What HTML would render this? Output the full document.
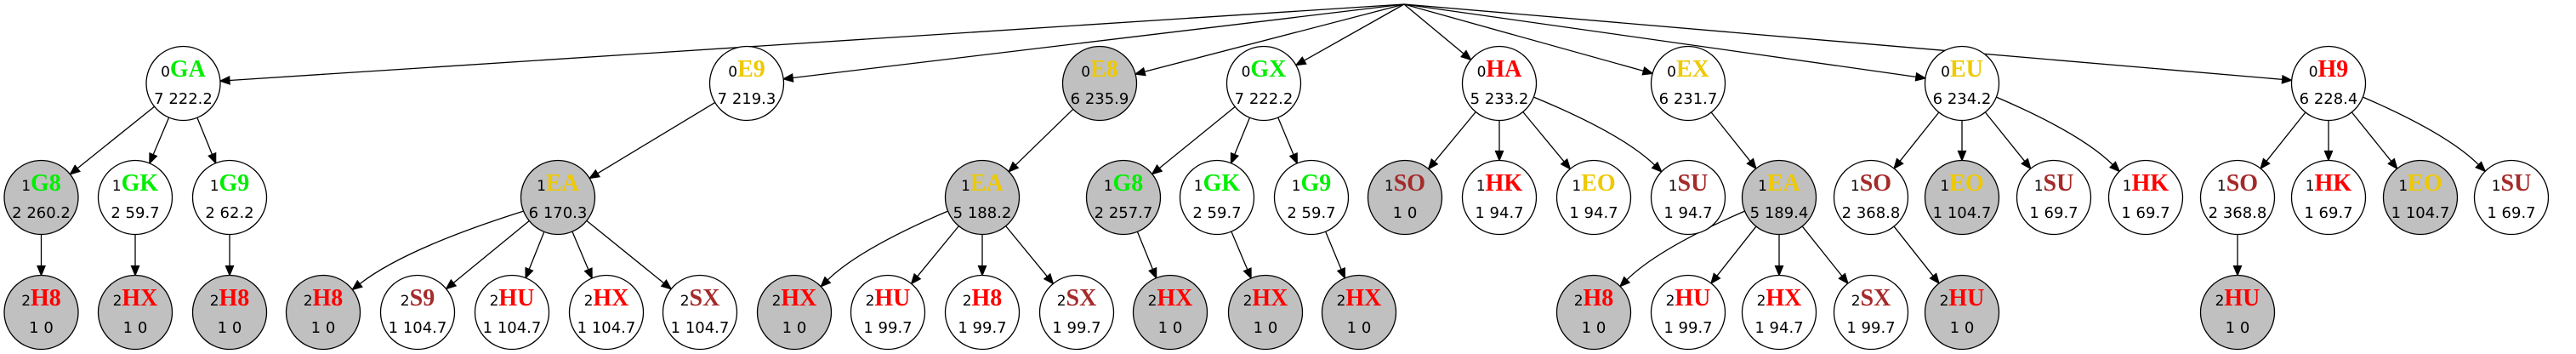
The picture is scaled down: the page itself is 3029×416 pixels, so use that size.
<!DOCTYPE html>
<html><head><meta charset="utf-8">
<style>
html,body{margin:0;padding:0;background:#fff;}
svg{display:block;}
.s{font-family:"DejaVu Sans","Liberation Sans",sans-serif;font-size:17px;fill:#000;}
.b{font-family:"Liberation Serif",serif;font-size:28px;font-weight:bold;}
.l2{font-family:"DejaVu Sans","Liberation Sans",sans-serif;font-size:18px;fill:#000;}
.g{fill:#00ee00}.y{fill:#eec900}.r{fill:#ff0000}.n{fill:#a52a2a}
</style></head><body>
<svg id="sv" width="3029" height="416" viewBox="0 0 3029 416" xmlns="http://www.w3.org/2000/svg">
<g id="edges" stroke="#000" stroke-width="1.3" fill="none"></g>
<g id="nodes" stroke="#000" stroke-width="1.3">
<!-- level 1 -->
<ellipse cx="215.5" cy="98" rx="43.5" ry="43.5" fill="#fff"/>
<ellipse cx="878" cy="98" rx="43.5" ry="43.5" fill="#fff"/>
<ellipse cx="1293" cy="98" rx="43.5" ry="43.5" fill="#c0c0c0"/>
<ellipse cx="1486" cy="98" rx="43.5" ry="43.5" fill="#fff"/>
<ellipse cx="1763" cy="98" rx="43.5" ry="43.5" fill="#fff"/>
<ellipse cx="1985" cy="98" rx="43.5" ry="43.5" fill="#fff"/>
<ellipse cx="2307" cy="98" rx="43.5" ry="43.5" fill="#fff"/>
<ellipse cx="2738" cy="98" rx="43.5" ry="43.5" fill="#fff"/>
<!-- level 2 -->
<ellipse cx="48.5" cy="232" rx="43.5" ry="43.5" fill="#c0c0c0"/>
<ellipse cx="159" cy="232" rx="43.5" ry="43.5" fill="#fff"/>
<ellipse cx="270" cy="232" rx="43.5" ry="43.5" fill="#fff"/>
<ellipse cx="656" cy="232" rx="43.5" ry="43.5" fill="#c0c0c0"/>
<ellipse cx="1155" cy="232" rx="43.5" ry="43.5" fill="#c0c0c0"/>
<ellipse cx="1321" cy="232" rx="43.5" ry="43.5" fill="#c0c0c0"/>
<ellipse cx="1431" cy="232" rx="43.5" ry="43.5" fill="#fff"/>
<ellipse cx="1542" cy="232" rx="43.5" ry="43.5" fill="#fff"/>
<ellipse cx="1652" cy="232" rx="43.5" ry="43.5" fill="#c0c0c0"/>
<ellipse cx="1763" cy="232" rx="43.5" ry="43.5" fill="#fff"/>
<ellipse cx="1874" cy="232" rx="43.5" ry="43.5" fill="#fff"/>
<ellipse cx="1985" cy="232" rx="43.5" ry="43.5" fill="#fff"/>
<ellipse cx="2092" cy="232" rx="43.5" ry="43.5" fill="#c0c0c0"/>
<ellipse cx="2200" cy="232" rx="43.5" ry="43.5" fill="#fff"/>
<ellipse cx="2307" cy="232" rx="43.5" ry="43.5" fill="#c0c0c0"/>
<ellipse cx="2415" cy="232" rx="43.5" ry="43.5" fill="#fff"/>
<ellipse cx="2523" cy="232" rx="43.5" ry="43.5" fill="#fff"/>
<ellipse cx="2631" cy="232" rx="43.5" ry="43.5" fill="#fff"/>
<ellipse cx="2738" cy="232" rx="43.5" ry="43.5" fill="#fff"/>
<ellipse cx="2846" cy="232" rx="43.5" ry="43.5" fill="#c0c0c0"/>
<ellipse cx="2953" cy="232" rx="43.5" ry="43.5" fill="#fff"/>
<!-- level 3 -->
<ellipse cx="48.5" cy="367" rx="43.5" ry="43.5" fill="#c0c0c0"/>
<ellipse cx="159" cy="367" rx="43.5" ry="43.5" fill="#c0c0c0"/>
<ellipse cx="270" cy="367" rx="43.5" ry="43.5" fill="#c0c0c0"/>
<ellipse cx="380" cy="367" rx="43.5" ry="43.5" fill="#c0c0c0"/>
<ellipse cx="491" cy="367" rx="43.5" ry="43.5" fill="#fff"/>
<ellipse cx="602" cy="367" rx="43.5" ry="43.5" fill="#fff"/>
<ellipse cx="713" cy="367" rx="43.5" ry="43.5" fill="#fff"/>
<ellipse cx="823" cy="367" rx="43.5" ry="43.5" fill="#fff"/>
<ellipse cx="934" cy="367" rx="43.5" ry="43.5" fill="#c0c0c0"/>
<ellipse cx="1044" cy="367" rx="43.5" ry="43.5" fill="#fff"/>
<ellipse cx="1155" cy="367" rx="43.5" ry="43.5" fill="#fff"/>
<ellipse cx="1266" cy="367" rx="43.5" ry="43.5" fill="#fff"/>
<ellipse cx="1376" cy="367" rx="43.5" ry="43.5" fill="#c0c0c0"/>
<ellipse cx="1488" cy="367" rx="43.5" ry="43.5" fill="#c0c0c0"/>
<ellipse cx="1598" cy="367" rx="43.5" ry="43.5" fill="#c0c0c0"/>
<ellipse cx="1874" cy="367" rx="43.5" ry="43.5" fill="#c0c0c0"/>
<ellipse cx="1985" cy="367" rx="43.5" ry="43.5" fill="#fff"/>
<ellipse cx="2092" cy="367" rx="43.5" ry="43.5" fill="#fff"/>
<ellipse cx="2200" cy="367" rx="43.5" ry="43.5" fill="#fff"/>
<ellipse cx="2307" cy="367" rx="43.5" ry="43.5" fill="#c0c0c0"/>
<ellipse cx="2631" cy="367" rx="43.5" ry="43.5" fill="#c0c0c0"/>
</g>
<g text-anchor="middle">
<!-- level 1 labels -->
<text x="215.5" y="90" class="s">0<tspan class="b g">GA</tspan></text><text x="215.5" y="122" class="l2">7 222.2</text>
<text x="878" y="90" class="s">0<tspan class="b y">E9</tspan></text><text x="878" y="122" class="l2">7 219.3</text>
<text x="1293" y="90" class="s">0<tspan class="b y">E8</tspan></text><text x="1293" y="122" class="l2">6 235.9</text>
<text x="1486" y="90" class="s">0<tspan class="b g">GX</tspan></text><text x="1486" y="122" class="l2">7 222.2</text>
<text x="1763" y="90" class="s">0<tspan class="b r">HA</tspan></text><text x="1763" y="122" class="l2">5 233.2</text>
<text x="1985" y="90" class="s">0<tspan class="b y">EX</tspan></text><text x="1985" y="122" class="l2">6 231.7</text>
<text x="2307" y="90" class="s">0<tspan class="b y">EU</tspan></text><text x="2307" y="122" class="l2">6 234.2</text>
<text x="2738" y="90" class="s">0<tspan class="b r">H9</tspan></text><text x="2738" y="122" class="l2">6 228.4</text>
<!-- level 2 labels -->
<text x="48.5" y="224" class="s">1<tspan class="b g">G8</tspan></text><text x="48.5" y="256" class="l2">2 260.2</text>
<text x="159" y="224" class="s">1<tspan class="b g">GK</tspan></text><text x="159" y="256" class="l2">2 59.7</text>
<text x="270" y="224" class="s">1<tspan class="b g">G9</tspan></text><text x="270" y="256" class="l2">2 62.2</text>
<text x="656" y="224" class="s">1<tspan class="b y">EA</tspan></text><text x="656" y="256" class="l2">6 170.3</text>
<text x="1155" y="224" class="s">1<tspan class="b y">EA</tspan></text><text x="1155" y="256" class="l2">5 188.2</text>
<text x="1321" y="224" class="s">1<tspan class="b g">G8</tspan></text><text x="1321" y="256" class="l2">2 257.7</text>
<text x="1431" y="224" class="s">1<tspan class="b g">GK</tspan></text><text x="1431" y="256" class="l2">2 59.7</text>
<text x="1542" y="224" class="s">1<tspan class="b g">G9</tspan></text><text x="1542" y="256" class="l2">2 59.7</text>
<text x="1652" y="224" class="s">1<tspan class="b n">SO</tspan></text><text x="1652" y="256" class="l2">1 0</text>
<text x="1763" y="224" class="s">1<tspan class="b r">HK</tspan></text><text x="1763" y="256" class="l2">1 94.7</text>
<text x="1874" y="224" class="s">1<tspan class="b y">EO</tspan></text><text x="1874" y="256" class="l2">1 94.7</text>
<text x="1985" y="224" class="s">1<tspan class="b n">SU</tspan></text><text x="1985" y="256" class="l2">1 94.7</text>
<text x="2092" y="224" class="s">1<tspan class="b y">EA</tspan></text><text x="2092" y="256" class="l2">5 189.4</text>
<text x="2200" y="224" class="s">1<tspan class="b n">SO</tspan></text><text x="2200" y="256" class="l2">2 368.8</text>
<text x="2307" y="224" class="s">1<tspan class="b y">EO</tspan></text><text x="2307" y="256" class="l2">1 104.7</text>
<text x="2415" y="224" class="s">1<tspan class="b n">SU</tspan></text><text x="2415" y="256" class="l2">1 69.7</text>
<text x="2523" y="224" class="s">1<tspan class="b r">HK</tspan></text><text x="2523" y="256" class="l2">1 69.7</text>
<text x="2631" y="224" class="s">1<tspan class="b n">SO</tspan></text><text x="2631" y="256" class="l2">2 368.8</text>
<text x="2738" y="224" class="s">1<tspan class="b r">HK</tspan></text><text x="2738" y="256" class="l2">1 69.7</text>
<text x="2846" y="224" class="s">1<tspan class="b y">EO</tspan></text><text x="2846" y="256" class="l2">1 104.7</text>
<text x="2953" y="224" class="s">1<tspan class="b n">SU</tspan></text><text x="2953" y="256" class="l2">1 69.7</text>
<!-- level 3 labels -->
<text x="48.5" y="359" class="s">2<tspan class="b r">H8</tspan></text><text x="48.5" y="391" class="l2">1 0</text>
<text x="159" y="359" class="s">2<tspan class="b r">HX</tspan></text><text x="159" y="391" class="l2">1 0</text>
<text x="270" y="359" class="s">2<tspan class="b r">H8</tspan></text><text x="270" y="391" class="l2">1 0</text>
<text x="380" y="359" class="s">2<tspan class="b r">H8</tspan></text><text x="380" y="391" class="l2">1 0</text>
<text x="491" y="359" class="s">2<tspan class="b n">S9</tspan></text><text x="491" y="391" class="l2">1 104.7</text>
<text x="602" y="359" class="s">2<tspan class="b r">HU</tspan></text><text x="602" y="391" class="l2">1 104.7</text>
<text x="713" y="359" class="s">2<tspan class="b r">HX</tspan></text><text x="713" y="391" class="l2">1 104.7</text>
<text x="823" y="359" class="s">2<tspan class="b n">SX</tspan></text><text x="823" y="391" class="l2">1 104.7</text>
<text x="934" y="359" class="s">2<tspan class="b r">HX</tspan></text><text x="934" y="391" class="l2">1 0</text>
<text x="1044" y="359" class="s">2<tspan class="b r">HU</tspan></text><text x="1044" y="391" class="l2">1 99.7</text>
<text x="1155" y="359" class="s">2<tspan class="b r">H8</tspan></text><text x="1155" y="391" class="l2">1 99.7</text>
<text x="1266" y="359" class="s">2<tspan class="b n">SX</tspan></text><text x="1266" y="391" class="l2">1 99.7</text>
<text x="1376" y="359" class="s">2<tspan class="b r">HX</tspan></text><text x="1376" y="391" class="l2">1 0</text>
<text x="1488" y="359" class="s">2<tspan class="b r">HX</tspan></text><text x="1488" y="391" class="l2">1 0</text>
<text x="1598" y="359" class="s">2<tspan class="b r">HX</tspan></text><text x="1598" y="391" class="l2">1 0</text>
<text x="1874" y="359" class="s">2<tspan class="b r">H8</tspan></text><text x="1874" y="391" class="l2">1 0</text>
<text x="1985" y="359" class="s">2<tspan class="b r">HU</tspan></text><text x="1985" y="391" class="l2">1 99.7</text>
<text x="2092" y="359" class="s">2<tspan class="b r">HX</tspan></text><text x="2092" y="391" class="l2">1 94.7</text>
<text x="2200" y="359" class="s">2<tspan class="b n">SX</tspan></text><text x="2200" y="391" class="l2">1 99.7</text>
<text x="2307" y="359" class="s">2<tspan class="b r">HU</tspan></text><text x="2307" y="391" class="l2">1 0</text>
<text x="2631" y="359" class="s">2<tspan class="b r">HU</tspan></text><text x="2631" y="391" class="l2">1 0</text>
</g>
</svg>
<script>
(function(){
var R=43.5, RX=1651, RY=5, L1=98, L2=232, L3=367;
var E=[];
[215.5,878,1293,1486,1763,1985,2307,2738].forEach(function(x){E.push([RX,RY,x,L1,1,0]);});
var l2=[[215.5,48.5],[215.5,159],[215.5,270],[878,656],[1293,1155],[1486,1321],[1486,1431],[1486,1542],
[1763,1652],[1763,1763],[1763,1874],[1763,1985,1],[1985,2092],[2307,2200],[2307,2307],[2307,2415],[2307,2523,1],
[2738,2631],[2738,2738],[2738,2846],[2738,2953,1]];
l2.forEach(function(a){E.push([a[0],L1,a[1],L2,0,a[2]||0]);});
var l3=[[48.5,48.5],[159,159],[270,270],[656,380,1],[656,491],[656,602],[656,713],[656,823],
[1155,934,1],[1155,1044],[1155,1155],[1155,1266],[1321,1376],[1431,1488],[1542,1598],
[2092,1874,1],[2092,1985],[2092,2092],[2092,2200],[2200,2307],[2631,2631]];
l3.forEach(function(a){E.push([a[0],L2,a[1],L3,0,a[2]||0]);});
var g=document.getElementById('edges'),NS='http://www.w3.org/2000/svg';
E.forEach(function(e){
 var px=e[0],py=e[1],cx=e[2],cy=e[3],root=e[4],curve=e[5];
 var sx,sy,ctrlx,ctrly,d;
 if(curve){
   var sg=cx<px?-1:1;
   sx=px+sg*R*0.93; sy=py+R*0.37;
   ctrlx=cx+(px-cx)*0.35; ctrly=cy-75;
 } else if(root){ sx=px; sy=py; ctrlx=(px+cx)/2; ctrly=(py+cy)/2; }
 else {
   var dx=cx-px,dy=cy-py,l=Math.hypot(dx,dy);
   sx=px+dx/l*R; sy=py+dy/l*R; ctrlx=(sx+cx)/2; ctrly=(sy+cy)/2;
 }
 var ux=cx-ctrlx,uy=cy-ctrly,ul=Math.hypot(ux,uy); ux/=ul; uy/=ul;
 var tx=cx-ux*R, ty=cy-uy*R;
 var AL=11, AW=4.5;
 var bx=tx-ux*AL, by=ty-uy*AL;
 var p=document.createElementNS(NS,'path');
 if(curve){ p.setAttribute('d','M'+sx+','+sy+' Q'+ctrlx+','+ctrly+' '+bx+','+by); }
 else p.setAttribute('d','M'+sx+','+sy+' L'+bx+','+by);
 g.appendChild(p);
 var a=document.createElementNS(NS,'polygon');
 a.setAttribute('points',tx+','+ty+' '+(bx-uy*AW)+','+(by+ux*AW)+' '+(bx+uy*AW)+','+(by-ux*AW));
 a.setAttribute('fill','#000');
 g.appendChild(a);
});
})();
</script>
</body></html>
